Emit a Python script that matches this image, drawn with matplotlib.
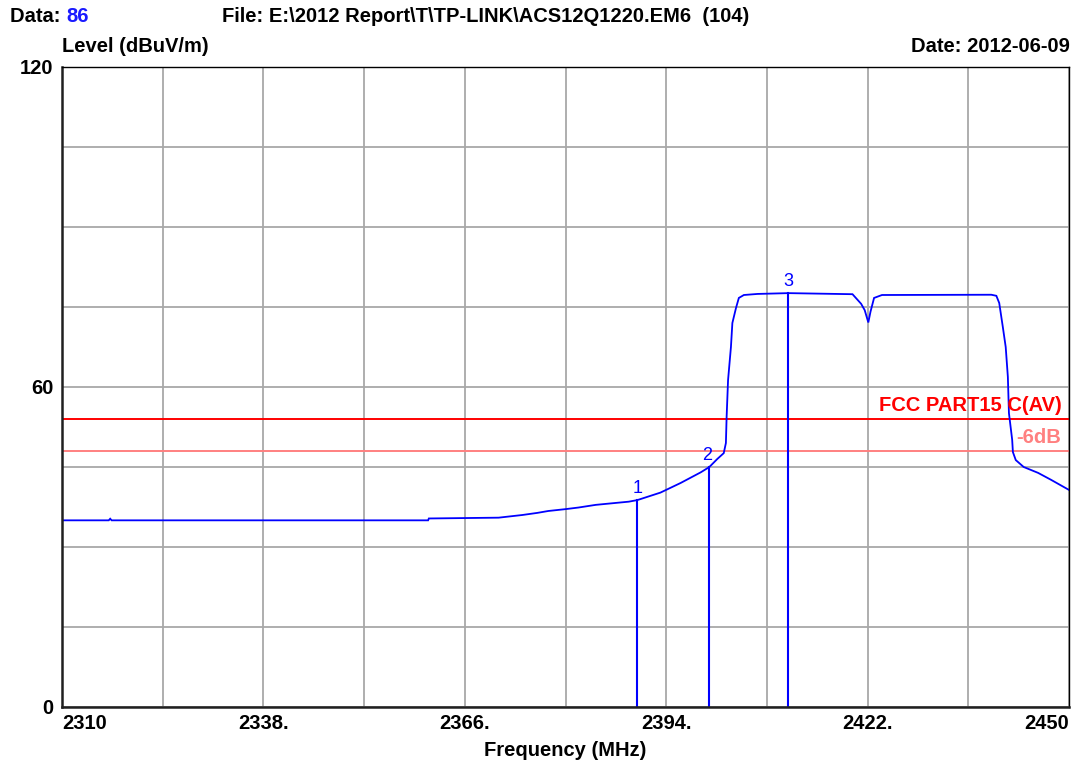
import matplotlib
matplotlib.use("Agg")
import matplotlib.pyplot as plt
from matplotlib.transforms import blended_transform_factory, offset_copy

plt.rcParams['font.family'] = ['Liberation Sans', 'DejaVu Sans']

# Measured emission trace (MHz, dBuV/m)
freq = [2310.0, 2316.5, 2316.7, 2316.9, 2360.9, 2361.0, 2370.7, 2374.0, 2376.1,
        2377.6, 2380.0, 2381.8, 2384.2, 2386.5, 2388.8, 2390.0, 2393.2, 2396.0,
        2398.8, 2400.0, 2401.1, 2402.0, 2402.3, 2402.4, 2402.6, 2403.0, 2403.2,
        2403.7, 2404.1, 2404.8, 2406.7, 2411.0, 2419.9, 2421.1, 2421.6, 2422.1,
        2422.4, 2422.9, 2424.0, 2439.2, 2439.9, 2440.3, 2440.8, 2441.2, 2441.5,
        2441.65, 2442.1, 2442.2, 2442.6, 2443.7, 2445.7, 2447.5, 2450.0]
level = [35.0, 35.0, 35.3, 35.0, 35.0, 35.35, 35.5, 36.0, 36.4,
         36.75, 37.1, 37.4, 37.9, 38.2, 38.5, 38.8, 40.2, 42.0,
         44.0, 45.0, 46.5, 47.6, 49.5, 54.4, 61.3, 67.5, 72.0,
         74.8, 76.7, 77.25, 77.45, 77.6, 77.4, 75.6, 74.4, 72.1,
         74.1, 76.7, 77.25, 77.3, 77.1, 75.75, 71.25, 67.5, 61.9,
         55.1, 50.1, 47.8, 46.3, 45.0, 43.9, 42.6, 40.7]

# Markers
marker_ids = ["1", "2", "3"]
marker_freq = [2390.0, 2400.0, 2411.0]
marker_level = [38.8, 45.0, 77.6]
marker_label_dx = [0.0, -0.3, 0.0]

# Limit lines
limit_name = "FCC PART15 C(AV)"
limit_level = 54.0
margin_name = "-6dB"
margin_level = 48.0

# Axis ticks
x_ticks = [2310 + 14 * i for i in range(11)]
x_tick_labels = ["2310", "", "2338.", "", "2366.", "", "2394.", "", "2422.", "", "2450"]
y_ticks = [15 * i for i in range(9)]
y_tick_labels = ["0", "", "", "", "60", "", "", "", "120"]

FS = 14.5

W, H = 1087, 765
fig = plt.figure(figsize=(W / 100, H / 100), dpi=100)
fig.patch.set_facecolor("white")

left, right, top, bottom = 62, 1069, 67, 707
ax = fig.add_axes([left / W, (H - bottom) / H, (right - left) / W, (bottom - top) / H])
ax.set_xlim(2310, 2450)
ax.set_ylim(0, 120)

ax.set_xticks(x_ticks)
ax.set_xticklabels(x_tick_labels, fontsize=FS, fontweight="bold")
ax.set_yticks(y_ticks)
ax.set_yticklabels(y_tick_labels, fontsize=FS, fontweight="bold")
ax.tick_params(axis="both", length=0)
ax.tick_params(axis="x", pad=5)
ax.tick_params(axis="y", pad=6)
xl = ax.get_xticklabels()
xl[0].set_ha("left")
xl[-1].set_ha("right")

ax.grid(True, color="#a8a8a8", linewidth=1.3)
ax.set_axisbelow(True)
for side in ["top", "right"]:
    ax.spines[side].set_linewidth(1.0)
    ax.spines[side].set_color("black")
for side in ["left", "bottom"]:
    ax.spines[side].set_linewidth(1.8)
    ax.spines[side].set_color("#202020")

ax.set_xlabel("Frequency (MHz)", fontsize=FS, fontweight="bold", labelpad=6)

# Limit lines and their labels
ax.axhline(limit_level, color="#ff0000", linewidth=1.4)
ax.axhline(margin_level, color="#ff8080", linewidth=1.4)
tr = blended_transform_factory(ax.transAxes, ax.transData)
ax.text(0.9925, limit_level + 0.7, limit_name, transform=tr, ha="right", va="bottom",
        color="#ff0000", fontsize=FS, fontweight="bold")
ax.text(0.9925, margin_level + 0.7, margin_name, transform=tr, ha="right", va="bottom",
        color="#ff8080", fontsize=FS, fontweight="bold")

# Trace
ax.plot(freq, level, color="#0000ff", linewidth=1.3, solid_joinstyle="miter")

# Marker lines and numbers
for mid, mf, ml, dx in zip(marker_ids, marker_freq, marker_level, marker_label_dx):
    ax.plot([mf, mf], [0, ml], color="#0000ff", linewidth=1.5)
    ax.text(mf + dx, ml + 0.5, mid, ha="center", va="bottom", color="#0000ff", fontsize=13)

# Header texts
def px(x, y):
    return x / W, 1 - y / H

t = fig.text(*px(10, 17), "Data: ", ha="left", va="center", fontsize=FS, fontweight="bold")
fig.canvas.draw()
bb = t.get_window_extent()
fig.text(bb.x1 / W, 1 - 17 / H, "86", ha="left", va="center", fontsize=FS,
         fontweight="bold", color="#1a1aff")
fig.text(*px(222, 17), r"File: E:\2012 Report\T\TP-LINK\ACS12Q1220.EM6  (104)",
         ha="left", va="center", fontsize=FS, fontweight="bold")
fig.text(*px(62, 47), "Level (dBuV/m)", ha="left", va="center", fontsize=FS, fontweight="bold")
fig.text(*px(1070, 47), "Date: 2012-06-09", ha="right", va="center", fontsize=FS, fontweight="bold")

fig.savefig("out.png", dpi=100, facecolor="white")
